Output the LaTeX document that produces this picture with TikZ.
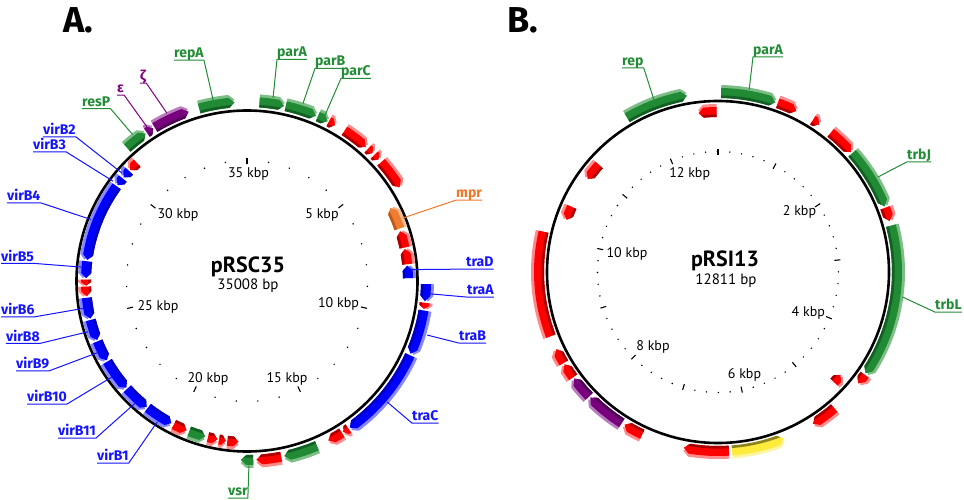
\documentclass[tikz,border=0pt]{standalone}
\usepackage{fontspec}
\setmainfont{PT Sans}
\newfontfamily\labfont{Fira Sans}
\definecolor{gred}{RGB}{255,0,0}
\definecolor{gredL}{RGB}{255,140,140}
\definecolor{gredD}{RGB}{170,0,0}
\definecolor{gblue}{RGB}{0,0,255}
\definecolor{gblueL}{RGB}{135,135,255}
\definecolor{gblueD}{RGB}{0,0,190}
\definecolor{ggreen}{RGB}{32,138,52}
\definecolor{ggreenL}{RGB}{125,190,135}
\definecolor{ggreenD}{RGB}{20,95,35}
\definecolor{gpurple}{RGB}{120,0,125}
\definecolor{gpurpleL}{RGB}{185,125,190}
\definecolor{gpurpleD}{RGB}{80,0,85}
\definecolor{gorange}{RGB}{238,125,50}
\definecolor{gorangeL}{RGB}{248,185,140}
\definecolor{gorangeD}{RGB}{190,90,30}
\definecolor{gyellow}{RGB}{255,235,60}
\definecolor{gyellowL}{RGB}{255,245,160}
\definecolor{gyellowD}{RGB}{140,130,30}
\definecolor{lblue}{RGB}{20,20,255}
\definecolor{lgreen}{RGB}{34,140,54}
\definecolor{lpurple}{RGB}{128,0,128}
\definecolor{lorange}{RGB}{240,120,40}
\tikzset{
  glab/.style={inner sep=0pt, font=\labfont\bfseries\fontsize{14}{14}\selectfont},
  ticklab/.style={inner sep=0pt, font=\fontsize{14}{14}\selectfont, anchor=base},
  majtick/.style={line width=1.1pt},
  backbone/.style={line width=2.6pt},
  leader/.style={line width=1pt},
}
\newcommand\gfill[4]{%
  \ifnum\gDir=1
    \fill[#1] (\gA:#3) arc[start angle=\gA, end angle=\gBb, radius=#3] -- (\gB:#4) -- (\gBb:#2) arc[start angle=\gBb, end angle=\gA, radius=#2] -- cycle;
  \else\ifnum\gDir=-1
    \fill[#1] (\gAb:#3) arc[start angle=\gAb, end angle=\gB, radius=#3] -- (\gB:#2) arc[start angle=\gB, end angle=\gAb, radius=#2] -- (\gA:#4) -- cycle;
  \else
    \fill[#1] (\gA:#3) arc[start angle=\gA, end angle=\gB, radius=#3] -- (\gB:#2) arc[start angle=\gB, end angle=\gA, radius=#2] -- cycle;
  \fi\fi}
\newcommand\gene[5]{%
  \pgfmathsetmacro\gRi{#3}%
  \pgfmathsetmacro\gRo{#3+10}%
  \pgfmathsetmacro\gRm{#3+5}%
  \pgfmathsetmacro\gH{min(1.8,0.6*(#2-#1))}%
  \pgfmathsetmacro\gA{90-#1}%
  \pgfmathsetmacro\gB{90-#2}%
  \pgfmathsetmacro\gAb{90-#1-\gH}%
  \pgfmathsetmacro\gBb{90-#2+\gH}%
  \def\gDir{#4}%
  \pgfmathsetmacro\gLi{#3+3}\pgfmathsetmacro\gLo{#3+13}\pgfmathsetmacro\gLm{#3+8}%
  \gfill{#5L}{\gLi}{\gLo}{\gLm}%
  \gfill{#5}{\gRi}{\gRo}{\gRm}%
  \pgfmathsetmacro\gC{#3+2.6}%
  \begin{scope}\clip (0,0) circle[radius=\gC];\gfill{#5D}{\gRi}{\gRo}{\gRm}\end{scope}%
}
\newcommand\glabE[6]{%
  \node[glab, text=#5, anchor=base west] (#1) at (#3,-#4) {#2};
  \draw[leader, #5] ([yshift=-2.4pt]#1.base west) -- ([yshift=-2.4pt]#1.base east) -- (#6);}
\newcommand\glabW[6]{%
  \node[glab, text=#5, anchor=base west] (#1) at (#3,-#4) {#2};
  \draw[leader, #5] ([yshift=-2.4pt]#1.base east) -- ([yshift=-2.4pt]#1.base west) -- (#6);}
\begin{document}
\begin{tikzpicture}[x=1pt,y=1pt]
\useasboundingbox (0,0) rectangle (964,-500);
\node[anchor=base west, inner sep=0pt, font=\labfont\bfseries\fontsize{36}{36}\selectfont] (pA) at (63,-33) {A.};
\node[anchor=base west, inner sep=0pt, font=\labfont\bfseries\fontsize{36}{36}\selectfont] (pB) at (507,-33) {B.};

% ---------------- Left map: pRSC35 ----------------
\begin{scope}[shift={(247,-281)}]
  \foreach \k in {0,...,35}{%
    \pgfmathsetmacro\ta{90-\k*10.28336}%
    \pgfmathtruncatemacro\mk{mod(\k,5)}%
    \ifnum\mk=0 \draw[majtick] (\ta:117) -- (\ta:123);
    \else \fill (\ta:120.5) circle[radius=0.8];
    \fi}
  \draw[backbone] (0,0) circle[radius=170.5];
  % outer (forward)
  \gene{318}{325.5}{174}{1}{ggreen}
  \gene{326}{328.5}{174}{1}{gpurple}
  \gene{329}{341}{174}{1}{gpurple}
  \gene{344.5}{356}{174}{1}{ggreen}
  \gene{4}{12}{174}{1}{ggreen}
  \gene{12.5}{22.7}{174}{1}{ggreen}
  \gene{23.3}{26.8}{174}{1}{ggreen}
  \gene{27.2}{29.5}{174}{1}{gred}
  \gene{33}{41.6}{174}{1}{gred}
  \gene{42.5}{44.5}{174}{1}{gred}
  \gene{45.3}{47.3}{174}{1}{gred}
  \gene{48.5}{58.5}{174}{1}{gred}
  \gene{91}{96.5}{174}{1}{gblue}
  \gene{97}{99}{174}{1}{gred}
  \gene{99.5}{114}{174}{1}{gblue}
  \gene{114.5}{145}{174}{1}{gblue}
  \gene{145.5}{147.5}{174}{1}{gred}
  \gene{148}{153}{174}{1}{gred}
  \gene{157}{168}{174}{1}{ggreen}
  \gene{169}{177}{174}{1}{gred}
  \gene{178}{182}{174}{1}{ggreen}
  % inner (reverse)
  \gene{63}{71}{156}{-1}{gorange}
  \gene{72}{78}{156}{-1}{gred}
  \gene{78.5}{84}{156}{-1}{gred}
  \gene{84.5}{89}{156}{-1}{gblue}
  \gene{183}{187}{156}{-1}{gred}
  \gene{187.5}{190}{156}{-1}{gred}
  \gene{190.5}{194}{156}{-1}{gred}
  \gene{195}{201}{156}{-1}{ggreen}
  \gene{202}{207}{156}{-1}{gred}
  \gene{208}{218}{156}{-1}{gblue}
  \gene{218.5}{228}{156}{-1}{gblue}
  \gene{228.5}{240}{156}{-1}{gblue}
  \gene{240.5}{248}{156}{-1}{gblue}
  \gene{248.5}{256}{156}{-1}{gblue}
  \gene{256.5}{264}{156}{-1}{gblue}
  \gene{264.5}{268}{156}{-1}{gred}
  \gene{268.3}{270.5}{156}{-1}{gred}
  \gene{271}{277}{156}{-1}{gblue}
  \gene{277.5}{306}{156}{-1}{gblue}
  \gene{306.5}{309.5}{156}{-1}{gblue}
  \gene{310}{313}{156}{-1}{gblue}
  \gene{313.5}{317}{156}{-1}{gred}
  % leader targets
  \coordinate (tresP) at (-232:186);
  \coordinate (teps) at (-237:184);
  \coordinate (tzeta) at (-244.5:186);
  \coordinate (trepA) at (-259.4:184);
  \coordinate (tparA) at (81.9:185);
  \coordinate (tparB) at (72.5:186);
  \coordinate (tparC) at (64.8:183);
  \coordinate (tmpr) at (22:168);
  \coordinate (ttraD) at (4:163);
  \coordinate (ttraA) at (-4:183);
  \coordinate (ttraB) at (-16.7:188);
  \coordinate (ttraC) at (-40.8:185);
  \coordinate (tvsr) at (-89.4:185);
  \coordinate (tvirBa) at (-122.5:167);
  \coordinate (tvirBk) at (-132.5:166);
  \coordinate (tvirBj) at (-144.6:166);
  \coordinate (tvirBi) at (-154.4:166);
  \coordinate (tvirBh) at (-162.3:167);
  \coordinate (tvirBf) at (-170.5:165);
  \coordinate (tvirBe) at (-184.8:166);
  \coordinate (tvirBd) at (-201.5:168);
  \coordinate (tvirBc) at (-216.7:167);
  \coordinate (tvirBb) at (-220.8:165);
\end{scope}

\node[ticklab] (l35) at (248.5,-177.5) {35 kbp};
\node[ticklab] (l5) at (322,-218) {5 kbp};
\node[ticklab] (l30) at (178,-218) {30 kbp};
\node[ticklab] (l10) at (338.5,-307.3) {10 kbp};
\node[ticklab] (l25) at (158,-310.7) {25 kbp};
\node[ticklab] (l20) at (208,-382.3) {20 kbp};
\node[ticklab] (l15) at (287,-382.3) {15 kbp};
\node[anchor=base, inner sep=0pt, font=\bfseries\fontsize{22}{22}\selectfont] (nL) at (248,-272.7) {pRSC35};
\node[anchor=base, inner sep=0pt, font=\fontsize{15}{15}\selectfont] (sL) at (248,-289.3) {35008 bp};

\glabE{lresP}{resP}{82}{106.2}{lgreen}{tresP}
\glabE{leps}{ε}{117}{92.7}{lpurple}{teps}
\glabE{lzeta}{ζ}{140}{80.7}{lpurple}{tzeta}
\glabE{lrepA}{repA}{174}{57.7}{lgreen}{trepA}
\glabW{lparA}{parA}{277}{57.0}{lgreen}{tparA}
\glabW{lparB}{parB}{315}{66.0}{lgreen}{tparB}
\glabW{lparC}{parC}{341}{76.0}{lgreen}{tparC}
\glabW{lmpr}{mpr}{456}{197.7}{lorange}{tmpr}
\glabW{ltraD}{traD}{466}{266.7}{lblue}{ttraD}
\glabW{ltraA}{traA}{467}{294.7}{lblue}{ttraA}
\glabW{ltraB}{traB}{459}{340.7}{lblue}{ttraB}
\glabW{ltraC}{traC}{412}{420.7}{lblue}{ttraC}
\glabE{lvsr}{vsr}{228}{495.7}{lgreen}{tvsr}
\glabE{lvirBa}{virB1}{97}{460.7}{lblue}{tvirBa}
\glabE{lvirBk}{virB11}{58}{435.7}{lblue}{tvirBk}
\glabE{lvirBj}{virB10}{27}{401.7}{lblue}{tvirBj}
\glabE{lvirBi}{virB9}{16}{368.4}{lblue}{tvirBi}
\glabE{lvirBh}{virB8}{6}{341}{lblue}{tvirBh}
\glabE{lvirBf}{virB6}{1}{314.4}{lblue}{tvirBf}
\glabE{lvirBe}{virB5}{1}{261}{lblue}{tvirBe}
\glabE{lvirBd}{virB4}{7}{200.4}{lblue}{tvirBd}
\glabE{lvirBc}{virB3}{33}{149.4}{lblue}{tvirBc}
\glabE{lvirBb}{virB2}{43}{134.4}{lblue}{tvirBb}

% ---------------- Right map: pRSI13 ----------------
\begin{scope}[shift={(718,-272)}]
  \foreach \k in {0,...,64}{%
    \pgfmathsetmacro\ta{90-\k*5.62016}%
    \pgfmathtruncatemacro\mk{mod(\k,5)}%
    \ifnum\mk=0 \draw[majtick] (\ta:117) -- (\ta:123);
    \else \fill (\ta:120.5) circle[radius=0.8];
    \fi}
  \draw[backbone] (0,0) circle[radius=171];
  % outer
  \gene{329.5}{350}{174}{1}{ggreen}
  \gene{1}{18.7}{174}{1}{ggreen}
  \gene{19.5}{26}{174}{1}{gred}
  \gene{32}{34.5}{174}{1}{gred}
  \gene{39}{48}{174}{1}{gred}
  \gene{48.5}{68.5}{174}{1}{ggreen}
  \gene{69}{73.5}{174}{1}{gred}
  \gene{75}{124.5}{174}{1}{ggreen}
  \gene{125}{128.5}{174}{1}{gred}
  \gene{139.5}{148}{174}{1}{gred}
  \gene{158.5}{175.5}{174}{-1}{gyellow}
  \gene{176.5}{191}{174}{1}{gred}
  \gene{205}{211.5}{174}{1}{gred}
  \gene{212.5}{225.5}{174}{1}{gpurple}
  \gene{226}{233.5}{174}{1}{gpurple}
  \gene{234}{239}{174}{1}{gred}
  \gene{239.5}{244.5}{174}{1}{gred}
  \gene{249}{283}{174}{0}{gred}
  % inner
  \gene{353}{359.5}{155}{-1}{gred}
  \gene{130}{133.5}{155}{-1}{gred}
  \gene{289}{294}{155}{-1}{gred}
  \gene{305.5}{312}{155}{-1}{gred}
  \coordinate (trep) at (-249.6:184);
  \coordinate (tparA2) at (80.3:185);
  \coordinate (ttrbJ) at (30.7:186);
  \coordinate (ttrbL) at (-7.7:186);
\end{scope}

\node[ticklab] (r12) at (689.7,-177.7) {12 kbp};
\node[ticklab] (r2) at (799.5,-215) {2 kbp};
\node[ticklab] (r10) at (627,-257.3) {10 kbp};
\node[ticklab] (r4) at (808.3,-316) {4 kbp};
\node[ticklab] (r8) at (653,-350.7) {8 kbp};
\node[ticklab] (r6) at (744.5,-378.7) {6 kbp};
\node[anchor=base, inner sep=0pt, font=\bfseries\fontsize{22}{22}\selectfont] (nR) at (725,-266.7) {pRSI13};
\node[anchor=base, inner sep=0pt, font=\fontsize{15}{15}\selectfont] (sR) at (726,-284.7) {12811 bp};

\glabE{lrep}{rep}{622}{65.4}{lgreen}{trep}
\glabW{lparA2}{parA}{753}{54.4}{lgreen}{tparA2}
\glabW{ltrbJ}{trbJ}{907}{159.4}{lgreen}{ttrbJ}
\glabW{ltrbL}{trbL}{935}{309.7}{lgreen}{ttrbL}
\end{tikzpicture}
\end{document}
